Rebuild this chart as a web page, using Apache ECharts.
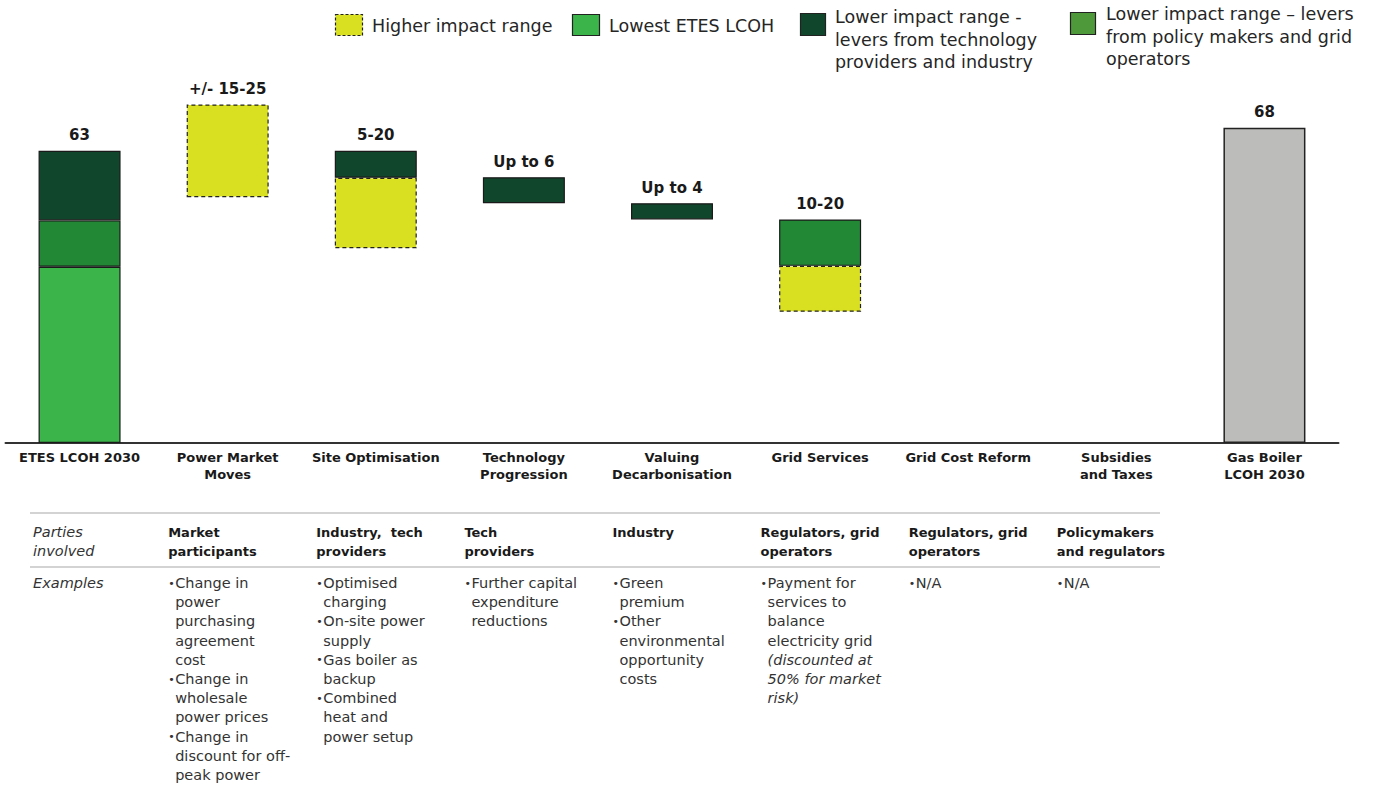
<!DOCTYPE html>
<html><head><meta charset="utf-8">
<script src="https://cdn.jsdelivr.net/npm/echarts@6/dist/echarts.min.js"></script>
<style>html,body{margin:0;padding:0;background:#fff}#c{width:1374px;height:787px}</style>
</head><body><div id="c"></div>
<script>
// ---- data ----
const categories = ['ETES LCOH 2030', 'Power Market\nMoves', 'Site Optimisation', 'Technology\nProgression', 'Valuing\nDecarbonisation', 'Grid Services', 'Grid Cost Reform', 'Subsidies\nand Taxes', 'Gas Boiler\nLCOH 2030'];
const baseValues    = [0,    53,   42,   51.7, 48.2, 28.3, null, null, 0];
const lowestValues  = [38,   null, null, null, null, null, null, null, null];
const higherRange   = [null, 20,   15.2, null, null, 9.9,  null, null, null];
const policyLevers  = [10,   null, null, null, null, 10,   null, null, null];
const techLevers    = [15,   null, 5.8,  5.6,  3.5,  null, null, null, null];
const gasBoiler     = [null, null, null, null, null, null, null, null, 68];
const topLabels     = ['63', '+/- 15-25', '5-20', 'Up to 6', 'Up to 4', '10-20', '', '', '68'];

const legendNames = ['Higher impact range', 'Lowest ETES LCOH', 'Lower impact range -\nlevers from technology\nproviders and industry', 'Lower impact range \u2013 levers\nfrom policy makers and grid\noperators'];

const rowLabels = ['Parties\ninvolved', 'Examples'];
const parties = ['', 'Market\nparticipants', 'Industry,  tech\nproviders', 'Tech\nproviders', 'Industry', 'Regulators, grid\noperators', 'Regulators, grid\noperators', 'Policymakers\nand regulators', ''];
const examples = [
  [],
  [['Change in', 'power', 'purchasing', 'agreement', 'cost'], ['Change in', 'wholesale', 'power prices'], ['Change in', 'discount for off-', 'peak power']],
  [['Optimised', 'charging'], ['On-site power', 'supply'], ['Gas boiler as', 'backup'], ['Combined', 'heat and', 'power setup']],
  [['Further capital', 'expenditure', 'reductions']],
  [['Green', 'premium'], ['Other', 'environmental', 'opportunity', 'costs']],
  [['Payment for', 'services to', 'balance', 'electricity grid', '(discounted at', '50% for market', 'risk)']],
  [['N/A']],
  [['N/A']],
  []
];

// ---- styles ----
const FONT = '"DejaVu Sans", sans-serif';
const C = { yellow: '#d8e021', light: '#3bb44a', mid: '#228836', dark: '#10472c', gray: '#bcbdba', legendMid: '#4e9a3a', text: '#1a1a1a' };
const edge = { borderColor: '#1a1a1a', borderWidth: 1.2 };

const chart = echarts.init(document.getElementById('c'), null, { renderer: 'svg' });

function barSeries(name, data, color, extra) {
  return Object.assign({
    name, type: 'bar', stack: 'w', data, barWidth: 82, silent: true,
    itemStyle: Object.assign({ color }, edge)
  }, extra || {});
}

const option = {
  animation: false,
  backgroundColor: '#fff',
  grid: { left: 5.5, right: 35.5, top: 72, bottom: 344, containLabel: false },
  xAxis: {
    type: 'category', data: categories,
    axisLine: { lineStyle: { color: '#333', width: 2 } },
    axisTick: { show: false },
    axisLabel: { interval: 0, margin: 6, fontFamily: FONT, fontWeight: 'bold', fontSize: 13, lineHeight: 17, color: C.text, verticalAlign: 'top' }
  },
  yAxis: { type: 'value', min: 0, max: 80, show: false, splitLine: { show: false } },
  series: [
    { name: 'base', type: 'bar', stack: 'w', data: baseValues, barWidth: 82, silent: true, itemStyle: { color: 'transparent', borderWidth: 0 } },
    barSeries(legendNames[1], lowestValues, C.light),
    barSeries(legendNames[0], higherRange, C.yellow, { itemStyle: { color: C.yellow, borderColor: '#222', borderWidth: 1.2, borderType: [4, 3] } }),
    barSeries(legendNames[3], policyLevers, C.mid),
    barSeries(legendNames[2], techLevers, C.dark),
    barSeries('Gas Boiler LCOH 2030', gasBoiler, C.gray, { itemStyle: { color: C.gray, borderColor: '#222', borderWidth: 1.5 } }),
    {
      name: 'labels', type: 'bar', stack: 'w', barWidth: 82, silent: true,
      data: topLabels.map(t => t ? 0 : null),
      itemStyle: { color: 'transparent', borderWidth: 0 },
      label: { show: true, position: 'top', distance: 8, formatter: p => topLabels[p.dataIndex], fontFamily: FONT, fontWeight: 'bold', fontSize: 15, color: C.text }
    }
  ]
};
chart.setOption(option);

// ---- legend & table as graphic text ----
const g = [];
function txt(x, y, text, opts) {
  g.push({ type: 'text', x, y, silent: true, style: Object.assign({ text, fill: C.text, font: '15px ' + FONT, verticalAlign: 'middle', align: 'left' }, opts || {}) });
}
function rect(x, y, w, h, fill, dashed) {
  g.push({ type: 'rect', silent: true, shape: { x, y, width: w, height: h }, style: { fill, stroke: '#222', lineWidth: 1.2, lineDash: dashed ? [3, 2] : null } });
}
// legend
const legendFont = '17.5px ' + FONT;
rect(335.5, 14.5, 27, 21, C.yellow, true);
txt(372, 25.5, legendNames[0], { font: legendFont, fill: '#262626' });
rect(572.5, 14.5, 27, 21, C.light, false);
txt(609, 25.5, legendNames[1], { font: legendFont, fill: '#262626' });
rect(800.5, 13.5, 25, 22, C.dark, false);
txt(835, 6, legendNames[2], { font: legendFont, fill: '#262626', verticalAlign: 'top', lineHeight: 22.5 });
rect(1070.5, 12.5, 25, 22, C.legendMid, false);
txt(1106, 3, legendNames[3], { font: legendFont, fill: '#262626', verticalAlign: 'top', lineHeight: 22.5 });

// table lines
[513, 567].forEach(y => g.push({ type: 'line', silent: true, shape: { x1: 30, y1: y, x2: 1160, y2: y }, style: { stroke: '#c4c4c4', lineWidth: 1.5 } }));
// row labels
txt(33, 522, rowLabels[0], { font: 'italic 14.5px ' + FONT, verticalAlign: 'top', lineHeight: 19, fill: '#333' });
txt(33, 583, rowLabels[1], { font: 'italic 14.5px ' + FONT, fill: '#333' });

const LH = 19.2;
categories.forEach((c, i) => {
  const cx = chart.convertToPixel({ xAxisIndex: 0 }, i);
  const x0 = cx - 59.5;
  if (parties[i]) txt(x0, 522.5, parties[i], { font: 'bold 13px ' + FONT, verticalAlign: 'top', lineHeight: 19 });
  let y = 583;
  let italic = false;
  (examples[i] || []).forEach(bullet => {
    bullet.forEach((line, k) => {
      if (k === 0) txt(x0, y, '\u2022', { font: '11px ' + FONT, fill: '#333' });
      if (line.indexOf('(') >= 0) italic = true;
      txt(x0 + 7, y, line, { font: (italic ? 'italic ' : '') + '14.5px ' + FONT, fill: '#333' });
      if (line.indexOf(')') >= 0) italic = false;
      y += LH;
    });
  });
});
chart.setOption({ graphic: { elements: g } });
</script></body></html>
